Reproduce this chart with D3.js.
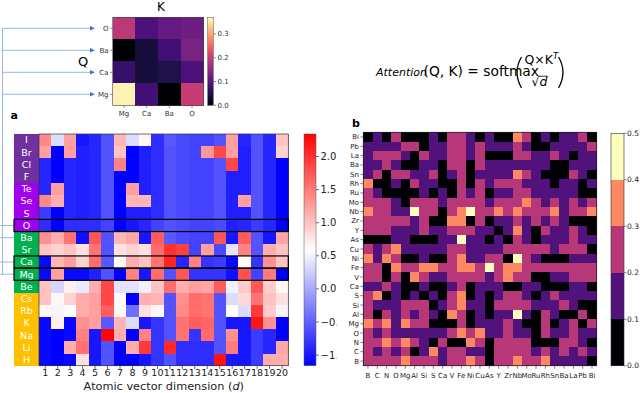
<!DOCTYPE html>
<html><head><meta charset="utf-8">
<script src="https://cdn.jsdelivr.net/npm/d3@7"></script>
<style>body{margin:0;background:#fff}svg{display:block}text{font-family:"DejaVu Sans",sans-serif}</style>
</head><body><svg id="c" width="640" height="393"></svg>
<script>
// ---------- DATA ----------
// top attention matrix (Q rows, K columns)
const topQ = ["O","Ba","Ca","Mg"];
const topK = ["Mg","Ca","Ba","O"];
const topVals = [
  [0.19,0.09,0.11,0.12],
  [0.00,0.04,0.08,0.13],
  [0.07,0.04,0.05,0.09],
  [0.36,0.08,0.00,0.20]
];
const topTicks = [0.0,0.1,0.2,0.3];

// panel a
const elemA = ["I","Br","Cl","F","Te","Se","S","O","Ba","Sr","Ca","Mg","Be","Cs","Rb","K","Na","Li","H"];
const groupA = ["h","h","h","h","c","c","c","c","ae","ae","ae","ae","ae","a","a","a","a","a","a"];
const dimA = [1,2,3,4,5,6,7,8,9,10,11,12,13,14,15,16,17,18,19,20];
const valsA = [
 [1.4,0.35,1.25,-1.0,-0.9,-0.6,1.1,0.35,0.65,-0.85,-0.55,-0.65,-0.7,-0.7,-0.6,1.25,-0.9,-0.6,-0.9,1.0],
 [1.25,-1.16,1.25,-0.95,-0.9,-0.6,1.0,-1.16,-0.95,-0.85,-0.6,-0.65,-0.7,1.3,1.85,1.25,-0.95,-0.6,-0.9,0.9],
 [-0.9,-1.16,-0.9,-0.95,-0.9,-0.6,1.45,-1.16,-0.95,-0.85,-0.6,-0.65,-0.7,-0.7,-0.6,1.85,-0.95,-0.6,-0.9,-1.16],
 [-0.9,-1.16,-0.9,-0.95,-0.9,-0.6,-1.16,-1.16,-0.95,-0.85,-0.6,-0.65,-0.7,-0.7,-0.6,-0.95,-0.95,-0.6,-0.9,-1.16],
 [-0.9,1.25,-0.9,-0.95,-0.9,-0.6,-1.16,1.25,-0.95,-0.85,-0.6,-0.65,-0.7,-0.7,-0.6,-0.95,-0.95,-0.6,-0.9,-1.16],
 [1.4,1.15,-0.9,-0.95,-0.9,-0.6,-1.16,1.1,1.1,-0.85,-0.6,-0.65,-0.7,-0.7,-0.6,-0.95,1.25,-0.6,-0.9,-1.16],
 [-0.75,-1.16,-0.9,-0.95,-0.9,-0.6,-1.16,-0.95,-0.95,-0.85,-0.6,-0.65,-0.7,-0.7,-0.6,-0.95,-0.95,-0.6,-0.9,-1.16],
 [-0.85,-1.16,-0.85,-0.85,-0.85,-0.7,-1.16,-1.0,-0.9,-0.7,-0.6,-0.65,-0.7,-0.7,-0.65,-0.95,-0.9,-0.75,-0.9,-1.16],
 [1.35,1.15,1.55,-1.05,1.75,-0.6,1.1,1.2,-1.0,1.7,-0.55,-0.65,-0.7,-0.7,1.75,-1.0,1.7,-0.6,-1.0,1.2],
 [1.0,0.9,1.0,0.8,1.55,-0.6,0.8,0.9,0.8,1.6,2.0,1.9,-0.7,1.25,-0.65,0.4,1.45,-0.6,1.15,1.0],
 [-1.1,1.1,1.25,0.9,1.6,-0.55,0.65,1.15,1.0,1.55,2.1,-0.9,1.45,-0.8,-0.75,-1.1,0.62,-0.8,1.35,1.0],
 [-1.1,1.25,-1.1,-1.1,-0.95,-0.6,-1.16,1.45,-1.0,1.6,-0.6,1.75,-0.8,-0.8,-0.8,-1.05,1.8,-0.7,1.5,-1.16],
 [1.0,0.3,0.7,0.45,1.15,1.85,0.4,0.4,0.5,1.0,1.6,1.15,1.25,1.2,1.7,0.5,0.95,1.75,0.95,0.65],
 [1.0,0.65,0.9,1.15,1.25,1.85,0.55,-1.16,1.15,1.1,-0.6,1.35,1.6,1.55,-0.6,0.35,0.85,1.55,1.0,0.8],
 [0.65,0.52,0.6,1.15,1.25,1.7,0.65,-0.4,0.8,0.65,-0.6,1.4,1.6,1.55,-0.6,0.6,0.35,1.95,0.95,0.52],
 [-1.1,0.7,-1.1,1.35,1.25,-0.55,1.1,0.35,-1.0,-0.8,-0.6,1.55,1.7,1.65,-0.6,-1.0,-1.0,2.2,1.35,-1.16],
 [-1.1,-1.16,-1.1,1.45,-1.0,2.3,1.15,-1.16,1.45,-0.8,-0.6,1.55,-0.8,1.6,-0.6,1.35,-1.0,-0.75,-0.9,-1.16],
 [-1.1,-1.16,1.15,1.55,-1.0,-0.6,-1.16,1.15,1.95,-0.8,2.05,-0.85,-0.85,-0.85,-0.6,1.5,-1.0,-0.75,-0.9,1.2],
 [-1.1,-1.16,-1.1,0.8,-1.0,-0.6,-1.16,-1.16,-1.0,-0.8,-0.6,-0.85,-0.85,-0.85,2.2,-1.0,-1.0,-0.75,1.15,1.15]
];
const ticksA = [2.0,1.5,1.0,0.5,0.0,-0.5,-1.0];
const highlightA = ["O","Ca","Mg"];
const linkedA = ["O","Ba","Ca","Mg"];

// panel b
const elemB = ["B","C","N","O","Mg","Al","Si","S","Ca","V","Fe","Ni","Cu","As","Y","Zr","Nb","Mo","Ru","Rh","Sn","Ba","La","Pb","Bi"];
const rowsB = ["Bi","Pb","La","Ba","Sn","Rh","Ru","Mo","Nb","Zr","Y","As","Cu","Ni","Fe","V","Ca","S","Si","Al","Mg","O","N","C","B"];
const valsB = [
 [0.05,0.15,0.05,0.25,0.05,0.05,0.05,0.15,0.05,0.25,0.25,0.15,0.05,0.15,0.05,0.05,0.35,0.25,0.05,0.15,0.05,0.15,0.15,0.25,0.05],
 [0.15,0.15,0.15,0.15,0.25,0.25,0.05,0.15,0.15,0.25,0.25,0.15,0.25,0.15,0.15,0.15,0.25,0.15,0.05,0.05,0.15,0.15,0.15,0.15,0.25],
 [0.15,0.25,0.25,0.25,0.15,0.05,0.25,0.15,0.15,0.25,0.25,0.15,0.25,0.05,0.05,0.05,0.25,0.25,0.15,0.15,0.25,0.15,0.05,0.15,0.15],
 [0.15,0.15,0.25,0.15,0.05,0.05,0.15,0.15,0.05,0.25,0.25,0.05,0.25,0.15,0.15,0.15,0.15,0.15,0.15,0.15,0.05,0.05,0.15,0.15,0.15],
 [0.15,0.25,0.05,0.25,0.25,0.15,0.15,0.25,0.05,0.15,0.25,0.05,0.15,0.15,0.15,0.15,0.35,0.25,0.15,0.05,0.05,0.05,0.25,0.15,0.05],
 [0.35,0.05,0.05,0.15,0.05,0.25,0.15,0.15,0.05,0.05,0.25,0.05,0.25,0.15,0.25,0.25,0.25,0.15,0.15,0.15,0.05,0.15,0.15,0.05,0.15],
 [0.25,0.15,0.05,0.05,0.05,0.05,0.15,0.05,0.15,0.05,0.25,0.15,0.25,0.05,0.15,0.15,0.25,0.25,0.15,0.15,0.15,0.15,0.15,0.05,0.05],
 [0.25,0.25,0.25,0.15,0.05,0.25,0.25,0.25,0.15,0.25,0.25,0.25,0.25,0.15,0.25,0.25,0.25,0.35,0.25,0.15,0.25,0.15,0.25,0.15,0.25],
 [0.35,0.25,0.25,0.15,0.15,0.45,0.25,0.25,0.05,0.25,0.35,0.45,0.25,0.25,0.35,0.25,0.35,0.25,0.25,0.25,0.35,0.15,0.25,0.25,0.35],
 [0.25,0.25,0.25,0.25,0.25,0.15,0.25,0.05,0.05,0.35,0.35,0.05,0.25,0.05,0.15,0.15,0.25,0.15,0.25,0.15,0.25,0.15,0.05,0.05,0.05],
 [0.25,0.25,0.25,0.15,0.15,0.15,0.25,0.15,0.15,0.25,0.25,0.25,0.15,0.15,0.05,0.15,0.35,0.15,0.05,0.25,0.15,0.15,0.25,0.15,0.05],
 [0.05,0.05,0.05,0.15,0.15,0.05,0.05,0.05,0.15,0.15,0.45,0.15,0.15,0.05,0.15,0.05,0.25,0.15,0.05,0.15,0.15,0.15,0.25,0.15,0.15],
 [0.25,0.15,0.25,0.35,0.15,0.15,0.15,0.15,0.15,0.25,0.25,0.15,0.15,0.15,0.15,0.25,0.25,0.25,0.25,0.25,0.15,0.25,0.25,0.25,0.05],
 [0.35,0.15,0.35,0.25,0.05,0.05,0.15,0.05,0.05,0.25,0.35,0.15,0.15,0.25,0.25,0.05,0.45,0.25,0.15,0.05,0.05,0.05,0.15,0.15,0.15],
 [0.25,0.25,0.05,0.35,0.25,0.25,0.35,0.35,0.25,0.25,0.35,0.35,0.25,0.45,0.25,0.35,0.35,0.25,0.25,0.25,0.25,0.25,0.25,0.25,0.25],
 [0.25,0.25,0.05,0.25,0.05,0.35,0.25,0.15,0.15,0.25,0.25,0.25,0.25,0.15,0.25,0.35,0.25,0.25,0.05,0.05,0.15,0.15,0.25,0.25,0.25],
 [0.15,0.15,0.25,0.15,0.05,0.05,0.15,0.05,0.05,0.15,0.25,0.05,0.15,0.15,0.15,0.05,0.05,0.15,0.15,0.05,0.05,0.05,0.15,0.15,0.05],
 [0.25,0.35,0.05,0.15,0.05,0.15,0.05,0.15,0.05,0.25,0.35,0.05,0.15,0.05,0.15,0.25,0.25,0.15,0.05,0.15,0.25,0.15,0.15,0.15,0.15],
 [0.25,0.15,0.15,0.15,0.25,0.25,0.25,0.05,0.15,0.25,0.35,0.15,0.15,0.05,0.25,0.25,0.25,0.25,0.15,0.15,0.15,0.25,0.15,0.05,0.05],
 [0.25,0.05,0.25,0.15,0.25,0.15,0.25,0.15,0.05,0.35,0.25,0.05,0.15,0.05,0.15,0.15,0.45,0.15,0.05,0.25,0.15,0.05,0.05,0.25,0.05],
 [0.35,0.25,0.35,0.15,0.35,0.25,0.25,0.05,0.05,0.05,0.25,0.05,0.15,0.15,0.15,0.25,0.15,0.05,0.05,0.25,0.05,0.15,0.25,0.05,0.25],
 [0.25,0.15,0.25,0.15,0.15,0.15,0.15,0.15,0.15,0.25,0.35,0.25,0.35,0.15,0.15,0.25,0.15,0.15,0.05,0.25,0.15,0.15,0.25,0.15,0.15],
 [0.25,0.25,0.35,0.25,0.35,0.25,0.15,0.05,0.25,0.05,0.05,0.35,0.25,0.05,0.25,0.25,0.25,0.25,0.05,0.05,0.05,0.25,0.25,0.15,0.05],
 [0.25,0.15,0.25,0.15,0.25,0.05,0.15,0.35,0.15,0.25,0.25,0.15,0.15,0.05,0.25,0.25,0.25,0.25,0.15,0.25,0.15,0.25,0.15,0.25,0.15],
 [0.25,0.25,0.25,0.25,0.35,0.25,0.25,0.25,0.15,0.25,0.25,0.35,0.25,0.05,0.25,0.25,0.35,0.25,0.25,0.35,0.15,0.15,0.15,0.15,0.05]
];
const binsB = [0.1,0.2,0.3,0.4];
const ticksB = [0.0,0.1,0.2,0.3,0.4,0.5];

// ---------- DRAW ----------
const svg = d3.select("#c");
const defs = svg.append("defs");
const magma5 = ["#000004","#51127c","#b73779","#fc8961","#fcfdbf"];
const groupColor = {h:"#7030a0", c:"#a000f0", ae:"#00b050", a:"#ffc000"};
const lineBlue = "#9ab8e0", arrowBlue = "#4472c4";

// ---- top attention matrix ----
const xT = d3.scaleBand().domain(topK).range([112.7,203.3]);
const yT = d3.scaleBand().domain(topQ).range([17.3,105.3]);
const cT = d3.scaleSequential(d3.interpolateMagma).domain([0,0.37]);
const gT = svg.append("g");
gT.selectAll("rect.cell").data(topVals.flatMap((r,i)=>r.map((v,j)=>({q:topQ[i],k:topK[j],v}))))
  .enter().append("rect")
  .attr("x",d=>xT(d.k)).attr("y",d=>yT(d.q))
  .attr("width",xT.bandwidth()+0.3).attr("height",yT.bandwidth()+0.3)
  .attr("fill",d=>cT(d.v)).attr("shape-rendering","crispEdges");
gT.append("rect").attr("x",112.7).attr("y",17.3).attr("width",90.6).attr("height",88)
  .attr("fill","none").attr("stroke","#444").attr("stroke-width",0.6);
topQ.forEach(q=>{
  const y=yT(q)+yT.bandwidth()/2;
  gT.append("line").attr("x1",110).attr("x2",112.7).attr("y1",y).attr("y2",y).attr("stroke","#444").attr("stroke-width",0.6);
  gT.append("text").attr("x",108.5).attr("y",y+2.4).attr("text-anchor","end").attr("font-size",7).attr("fill","#333").text(q);
});
topK.forEach(k=>{
  const x=xT(k)+xT.bandwidth()/2;
  gT.append("line").attr("x1",x).attr("x2",x).attr("y1",105.3).attr("y2",108).attr("stroke","#444").attr("stroke-width",0.6);
  gT.append("text").attr("x",x).attr("y",115.5).attr("text-anchor","middle").attr("font-size",7).attr("fill","#333").text(k);
});
gT.append("text").attr("x",161).attr("y",11).attr("text-anchor","middle").attr("font-family","Liberation Serif").attr("font-size",12).text("K");
gT.append("text").attr("x",83).attr("y",66).attr("text-anchor","middle").attr("font-family","Liberation Serif").attr("font-size",13).text("Q");
// top colorbar
const gradT = defs.append("linearGradient").attr("id","gT").attr("x1",0).attr("y1",1).attr("x2",0).attr("y2",0);
d3.range(0,1.001,0.1).forEach(t=>gradT.append("stop").attr("offset",t).attr("stop-color",d3.interpolateMagma(t)));
const yTc = d3.scaleLinear().domain([0,0.37]).range([105.3,17.3]);
gT.append("rect").attr("x",207.7).attr("y",17.3).attr("width",5.6).attr("height",88).attr("fill","url(#gT)").attr("stroke","#555").attr("stroke-width",0.5);
topTicks.forEach(t=>{
  gT.append("line").attr("x1",213.3).attr("x2",216).attr("y1",yTc(t)).attr("y2",yTc(t)).attr("stroke","#444").attr("stroke-width",0.6);
  gT.append("text").attr("x",217.5).attr("y",yTc(t)+2.5).attr("font-size",7).attr("fill","#333").text(t.toFixed(1));
});

// ---- connectors ----
const gL = svg.append("g");
const xA = d3.scaleBand().domain(dimA).range([39,288.3]);
const yA = d3.scaleBand().domain(elemA).range([134,365.7]);
gL.append("line").attr("x1",2.5).attr("x2",2.5).attr("y1",yT("O")+yT.bandwidth()/2).attr("y2",yA("Mg")+yA.bandwidth()/2)
  .attr("stroke",lineBlue).attr("stroke-width",1);
topQ.forEach(q=>{
  const y=yT(q)+yT.bandwidth()/2;
  gL.append("line").attr("x1",2.5).attr("x2",91).attr("y1",y).attr("y2",y).attr("stroke",lineBlue).attr("stroke-width",1);
  gL.append("path").attr("d",`M90,${y-2.2}L95,${y}L90,${y+2.2}Z`).attr("fill",arrowBlue);
});
linkedA.forEach(e=>{
  const y=yA(e)+yA.bandwidth()/2;
  gL.append("line").attr("x1",0).attr("x2",14).attr("y1",y).attr("y2",y).attr("stroke",lineBlue).attr("stroke-width",1);
});

// ---- panel a ----
const gA = svg.append("g");
const cA = d3.scaleLinear().domain([-1.16,0.59,2.34]).range(["#0000ff","#ffffff","#ff0000"]);
gA.selectAll("rect.cell").data(valsA.flatMap((r,i)=>r.map((v,j)=>({e:elemA[i],d:dimA[j],v}))))
  .enter().append("rect")
  .attr("x",d=>xA(d.d)).attr("y",d=>yA(d.e))
  .attr("width",xA.bandwidth()+0.4).attr("height",yA.bandwidth()+0.4)
  .attr("fill",d=>cA(d.v)).attr("shape-rendering","crispEdges");
elemA.forEach((e,i)=>{
  gA.append("rect").attr("x",14).attr("y",yA(e)).attr("width",25).attr("height",yA.bandwidth()+0.4)
    .attr("fill",groupColor[groupA[i]]).attr("shape-rendering","crispEdges");
  gA.append("text").attr("x",26.5).attr("y",yA(e)+yA.bandwidth()/2+3.4).attr("text-anchor","middle")
    .attr("font-size",9.5).attr("fill","#fff").text(e);
});
gA.append("rect").attr("x",39).attr("y",134).attr("width",249.3).attr("height",231.7)
  .attr("fill","none").attr("stroke","#333").attr("stroke-width",0.7);
highlightA.forEach(e=>{
  gA.append("rect").attr("x",14).attr("y",yA(e)).attr("width",274.3).attr("height",yA.bandwidth())
    .attr("fill","none").attr("stroke","#000").attr("stroke-width",1.2);
});
dimA.forEach(d=>{
  const x=xA(d)+xA.bandwidth()/2;
  gA.append("line").attr("x1",x).attr("x2",x).attr("y1",365.7).attr("y2",369).attr("stroke","#333").attr("stroke-width",0.7);
  gA.append("text").attr("x",x).attr("y",376.3).attr("text-anchor","middle").attr("font-size",9.5).attr("fill","#222").text(d);
});
const xl = gA.append("text").attr("x",163.8).attr("y",390).attr("text-anchor","middle").attr("font-size",11.3).attr("fill","#222");
xl.append("tspan").text("Atomic vector dimension (");
xl.append("tspan").attr("font-style","italic").text("d");
xl.append("tspan").text(")");
svg.append("text").attr("x",10.5).attr("y",118.5).attr("font-size",11).attr("font-weight","bold").text("a");
// panel a colorbar
const gradA = defs.append("linearGradient").attr("id","gA").attr("x1",0).attr("y1",1).attr("x2",0).attr("y2",0);
gradA.append("stop").attr("offset",0).attr("stop-color","#0000ff");
gradA.append("stop").attr("offset",0.5).attr("stop-color","#ffffff");
gradA.append("stop").attr("offset",1).attr("stop-color","#ff0000");
defs.append("clipPath").attr("id","clipA").append("rect").attr("x",0).attr("y",0).attr("width",336.5).attr("height",393);
const yAc = d3.scaleLinear().domain([-1.16,2.34]).range([365.7,134]);
const gAc = gA.append("g").attr("clip-path","url(#clipA)");
gAc.append("rect").attr("x",304).attr("y",134).attr("width",12).attr("height",231.7).attr("fill","url(#gA)").attr("stroke","#555").attr("stroke-width",0.5);
ticksA.forEach(t=>{
  gAc.append("line").attr("x1",316).attr("x2",319).attr("y1",yAc(t)).attr("y2",yAc(t)).attr("stroke","#333").attr("stroke-width",0.7);
  gAc.append("text").attr("x",320.5).attr("y",yAc(t)+3.5).attr("font-size",10).attr("fill","#222").text(t<0?"\u2212"+Math.abs(t).toFixed(1):t.toFixed(1));
});

// ---- panel b ----
const gB = svg.append("g");
const xB = d3.scaleBand().domain(elemB).range([363.3,596.7]);
const yB = d3.scaleBand().domain(rowsB).range([132.3,365.7]);
const cB = d3.scaleThreshold().domain(binsB).range(magma5);
gB.selectAll("rect.cell").data(valsB.flatMap((r,i)=>r.map((v,j)=>({r:rowsB[i],c:elemB[j],v}))))
  .enter().append("rect")
  .attr("x",d=>xB(d.c)).attr("y",d=>yB(d.r))
  .attr("width",xB.bandwidth()+0.4).attr("height",yB.bandwidth()+0.4)
  .attr("fill",d=>cB(d.v)).attr("shape-rendering","crispEdges");
gB.append("rect").attr("x",363.3).attr("y",132.3).attr("width",233.4).attr("height",233.4)
  .attr("fill","none").attr("stroke","#222").attr("stroke-width",0.8);
rowsB.forEach(r=>{
  const y=yB(r)+yB.bandwidth()/2;
  gB.append("line").attr("x1",360.3).attr("x2",363.3).attr("y1",y).attr("y2",y).attr("stroke","#333").attr("stroke-width",0.6);
  gB.append("text").attr("x",359).attr("y",y+2.5).attr("text-anchor","end").attr("font-size",7).attr("fill","#222").text(r);
});
elemB.forEach(c=>{
  const x=xB(c)+xB.bandwidth()/2;
  gB.append("line").attr("x1",x).attr("x2",x).attr("y1",365.7).attr("y2",368.7).attr("stroke","#333").attr("stroke-width",0.6);
  gB.append("text").attr("x",x).attr("y",377.5).attr("text-anchor","middle").attr("font-size",7).attr("fill","#222").text(c);
});
svg.append("text").attr("x",352).attr("y",126.5).attr("font-size",11).attr("font-weight","bold").text("b");
// panel b colorbar
const yBc = d3.scaleLinear().domain([0,0.5]).range([365.7,133.3]);
[0,0.1,0.2,0.3,0.4].forEach((lo,i)=>{
  gB.append("rect").attr("x",611).attr("y",yBc(lo+0.1)).attr("width",13).attr("height",yBc(lo)-yBc(lo+0.1))
    .attr("fill",magma5[i]).attr("shape-rendering","crispEdges");
});
gB.append("rect").attr("x",611).attr("y",133.3).attr("width",13).attr("height",232.4).attr("fill","none").attr("stroke","#333").attr("stroke-width",0.6);
ticksB.forEach(t=>{
  gB.append("line").attr("x1",624).attr("x2",626.5).attr("y1",yBc(t)).attr("y2",yBc(t)).attr("stroke","#333").attr("stroke-width",0.6);
  gB.append("text").attr("x",627).attr("y",yBc(t)+2.6).attr("font-size",7.5).attr("fill","#222").text(t.toFixed(1));
});

// ---- formula ----
const gF = svg.append("g");
gF.append("text").attr("x",376).attr("y",76).attr("font-family","Liberation Sans").attr("font-style","italic").attr("font-size",11).text("Attention");
gF.append("text").attr("x",423.5).attr("y",76).attr("font-family","Liberation Serif").attr("font-size",13.8).text("(Q, K) = softmax");
gF.append("path").attr("d","M521.5,57 Q512.5,72 521.5,88").attr("fill","none").attr("stroke","#000").attr("stroke-width",1.3);
gF.append("path").attr("d","M558.5,57 Q567.5,72 558.5,88").attr("fill","none").attr("stroke","#000").attr("stroke-width",1.3);
const num = gF.append("text").attr("x",524.5).attr("y",64).attr("font-family","Liberation Serif").attr("font-size",12.5);
num.append("tspan").text("Q\u00d7K");
num.append("tspan").attr("font-style","italic").attr("font-size",8.5).attr("dy",-5).text("T");
const den = gF.append("text").attr("x",531.5).attr("y",86).attr("font-family","Liberation Serif").attr("font-size",12.5);
den.append("tspan").text("\u221a");
den.append("tspan").attr("font-style","italic").text("d");
gF.append("line").attr("x1",538.3).attr("x2",547.5).attr("y1",76.2).attr("y2",76.2).attr("stroke","#000").attr("stroke-width",0.8);
</script></body></html>
